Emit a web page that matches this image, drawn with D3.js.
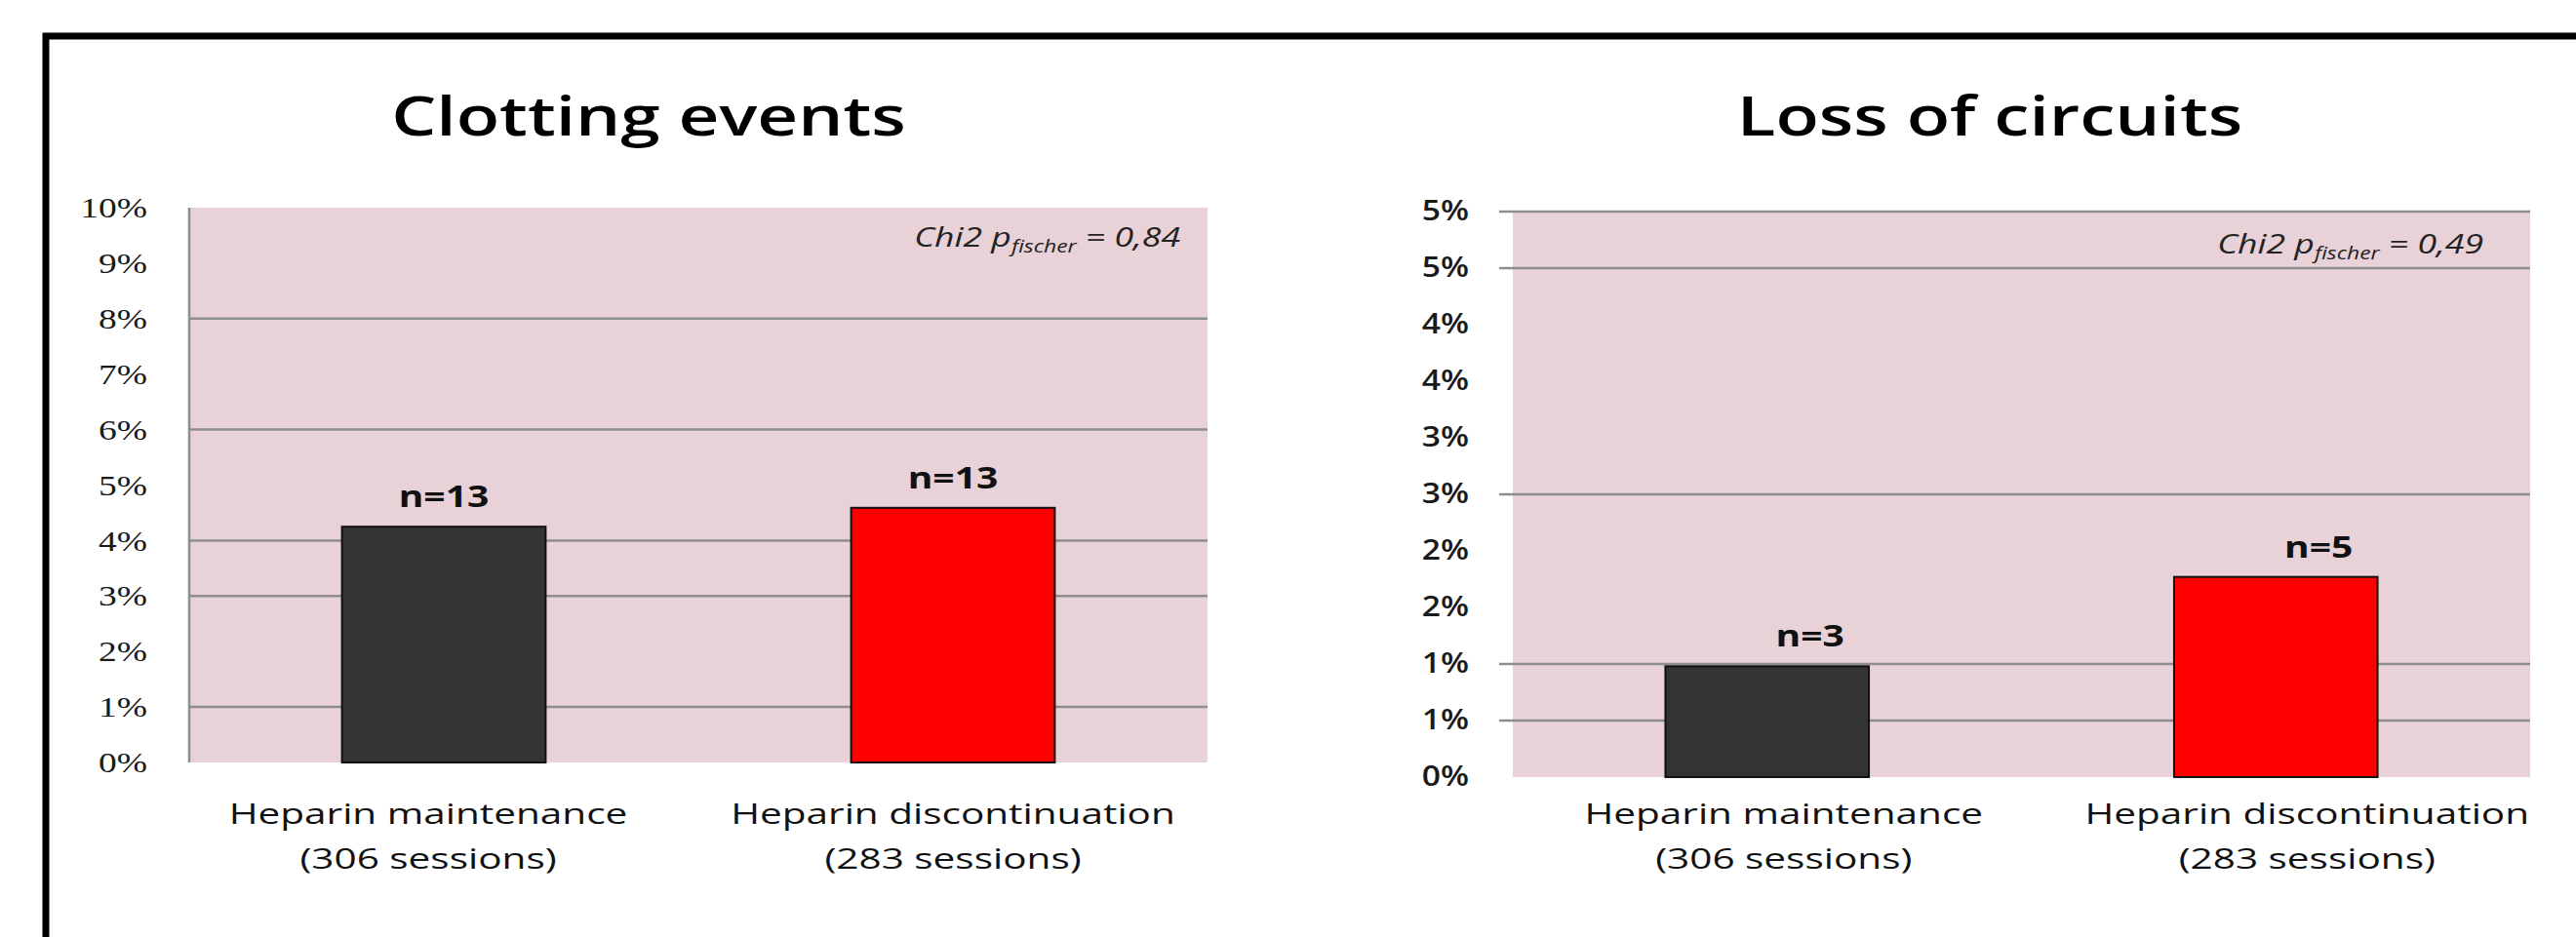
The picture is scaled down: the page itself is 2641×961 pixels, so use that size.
<!DOCTYPE html>
<html>
<head>
<meta charset="utf-8">
<script src="https://cdn.jsdelivr.net/npm/d3@7"></script>
<style>
  body { margin: 0; background: #fff; }
  svg { display: block; }
</style>
</head>
<body>
<div id="graph"></div>
<script>
const width = 2641
const height = 961

// Data
const categories = ["Heparin maintenance", "Heparin discontinuation"]
const sessions = [306, 283]
const clottingN = [13, 13]
const clottingPct = [4.25, 4.59]
const lossN = [3, 5]
const lossPct = [0.98, 1.77]
const barColors = ["#333333", "#ff0000"]

const clottingTicks = [0, 1, 2, 3, 4, 5, 6, 7, 8, 9, 10]
const clottingGrid = [1, 3, 4, 6, 8]
const lossTicks = [0, 0.5, 1, 1.5, 2, 2.5, 3, 3.5, 4, 4.5, 5]
const lossGrid = [0.5, 1, 2.5, 4.5, 5]

const svg = d3.select("#graph").append("svg")
    .attr("width", width)
    .attr("height", height)

// the original text is drawn wider than the fonts here, so widen it a bit
function stretch(sel, k) {
    sel.each(function() {
        const w = this.getComputedTextLength()
        d3.select(this)
            .attr("textLength", w * k)
            .attr("lengthAdjust", "spacingAndGlyphs")
    })
}

// Frame
svg.append("path")
    .attr("d", `M47,${height + 10} V37 H${width + 10}`)
    .attr("fill", "none")
    .attr("stroke", "#000")
    .attr("stroke-width", 7)

function drawChart(opt) {
    const g = svg.append("g")

    const x = d3.scaleBand()
        .domain(categories)
        .range(opt.xRange)
        .paddingInner(0.6)
        .paddingOuter(0.3)

    const y = d3.scaleLinear()
        .domain(opt.yDomain)
        .range(opt.yRange)

    // Plot background
    g.append("rect")
        .attr("x", opt.xRange[0])
        .attr("y", y(opt.yDomain[1]))
        .attr("width", opt.xRange[1] - opt.xRange[0])
        .attr("height", y(0) - y(opt.yDomain[1]))
        .attr("fill", "#e8d1d7")

    // Grid lines
    g.append("g")
        .selectAll("line")
        .data(opt.grid)
        .join("line")
        .attr("x1", opt.xRange[0] - opt.gridOverhang)
        .attr("x2", opt.xRange[1])
        .attr("y1", d => y(d))
        .attr("y2", d => y(d))
        .attr("stroke", "#8e8e8e")
        .attr("stroke-width", 2.5)

    if (opt.axisLine) {
        g.append("line")
            .attr("x1", opt.xRange[0])
            .attr("x2", opt.xRange[0])
            .attr("y1", y(opt.yDomain[1]))
            .attr("y2", y(0))
            .attr("stroke", "#8e8e8e")
            .attr("stroke-width", 2.5)
    }

    // Y axis labels
    const yAxis = g.append("g")
        .attr("transform", `translate(${opt.xRange[0]},0)`)
        .call(d3.axisLeft(y)
            .tickValues(opt.ticks)
            .tickSize(0)
            .tickPadding(opt.tickPadding)
            .tickFormat(d => Math.round(d) + "%"))
    yAxis.select(".domain").remove()
    yAxis.selectAll("text")
        .attr("font-family", opt.tickFont)
        .attr("font-weight", opt.tickWeight)
        .attr("font-size", opt.tickSize)
        .attr("fill", "#1a1a1a")
        .call(stretch, opt.tickStretch)

    // Bars
    g.append("g")
        .selectAll("rect")
        .data(opt.values)
        .join("rect")
        .attr("x", (d, i) => x(categories[i]))
        .attr("y", d => y(d))
        .attr("width", x.bandwidth())
        .attr("height", d => y(0) - y(d))
        .attr("fill", (d, i) => barColors[i])
        .attr("stroke", "#111")
        .attr("stroke-width", 2)

    // n labels
    g.append("g")
        .selectAll("text")
        .data(opt.values)
        .join("text")
        .attr("x", (d, i) => x(categories[i]) + x.bandwidth() / 2 + opt.nShift)
        .attr("y", d => y(d) - 20)
        .attr("text-anchor", "middle")
        .attr("font-family", "Open Sans")
        .attr("font-weight", "bold")
        .attr("font-size", 30)
        .attr("fill", "#111")
        .text((d, i) => "n=" + opt.counts[i])
        .call(stretch, 1.3)

    // Category labels
    categories.forEach((c, i) => {
        const cx = x(c) + x.bandwidth() / 2 + opt.labelShift[i]
        const lines = [c, "(" + sessions[i] + " sessions)"]
        lines.forEach((line, j) => {
            g.append("text")
                .attr("x", cx)
                .attr("y", 845 + j * 46)
                .attr("text-anchor", "middle")
                .attr("font-family", "Open Sans")
                .attr("font-size", 30)
                .attr("fill", "#111")
                .text(line)
                .call(stretch, 1.35)
        })
    })

    // Title
    g.append("text")
        .attr("x", opt.titleX)
        .attr("y", 139)
        .attr("text-anchor", "middle")
        .attr("font-family", "Open Sans")
        .attr("font-weight", 600)
        .attr("font-size", 56)
        .attr("fill", "#000")
        .text(opt.title)
        .call(stretch, 1.3)

    // Fisher p value
    const p = g.append("text")
        .attr("x", opt.xRange[1] - opt.pRight)
        .attr("y", opt.pY)
        .attr("text-anchor", "end")
        .attr("font-family", "Open Sans")
        .attr("font-style", "italic")
        .attr("font-size", 28)
        .attr("fill", "#222")
    p.append("tspan").text("Chi2 p")
    p.append("tspan").attr("font-size", 18).attr("dy", 6).text("fischer")
    p.append("tspan").attr("dy", -6).text(" = " + opt.pValue)
    p.call(stretch, 1.27)
}

drawChart({
    title: "Clotting events",
    titleX: 665,
    xRange: [194, 1238],
    yDomain: [0, 10],
    yRange: [782, 213],
    ticks: clottingTicks,
    grid: clottingGrid,
    gridOverhang: 0,
    axisLine: true,
    tickPadding: 43,
    tickFont: "Liberation Serif",
    tickWeight: "normal",
    tickSize: 30,
    tickStretch: 1.25,
    values: clottingPct,
    counts: clottingN,
    nShift: 0,
    labelShift: [-16, 0],
    pValue: "0,84",
    pRight: 28,
    pY: 253
})

drawChart({
    title: "Loss of circuits",
    titleX: 2040,
    xRange: [1551, 2594],
    yDomain: [0, 5],
    yRange: [797, 217],
    ticks: lossTicks,
    grid: lossGrid,
    gridOverhang: 14,
    axisLine: false,
    tickPadding: 45,
    tickFont: "Open Sans",
    tickWeight: 600,
    tickSize: 28,
    tickStretch: 1.2,
    values: lossPct,
    counts: lossN,
    nShift: 44,
    labelShift: [17, 32],
    pValue: "0,49",
    pRight: 48,
    pY: 260
})
</script>
</body>
</html>
